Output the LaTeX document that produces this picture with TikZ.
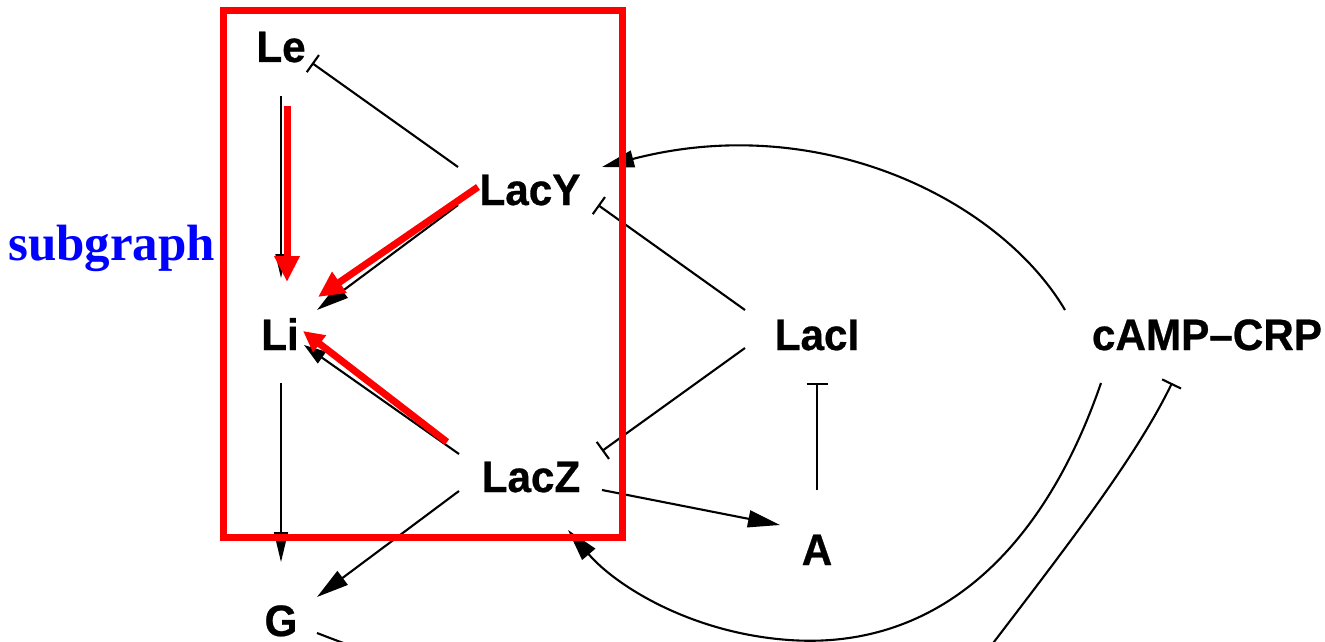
\documentclass[tikz,border=0pt]{standalone}
\usepackage{fontspec}
\setmainfont{Liberation Sans}
\newfontfamily\speciesfont[FakeStretch=0.96,FakeBold=0.6]{Liberation Sans}
\newfontfamily\tagfont{Liberation Serif}
\usetikzlibrary{arrows.meta,calc}

\begin{document}
\begin{tikzpicture}[x=1pt,y=-1pt,
  species/.style={font=\speciesfont\bfseries\fontsize{44}{44}\selectfont, anchor=base, inner sep=0pt},
  tag/.style={font=\tagfont\bfseries\fontsize{51}{51}\selectfont, text={rgb,255:red,0;green,0;blue,255}, anchor=base west, inner sep=0pt},
  link/.style={line width=2.1pt, black},
  thinlink/.style={line width=1.5pt, black},
  act/.style={-{Triangle[length=32pt,width=17pt]}},
  inh/.style={-{Bar[width=21pt]}},
  hl/.style={draw={rgb,255:red,255;green,0;blue,0}, line width=7pt, -{Triangle[length=26pt,width=24pt]}},
  hlsmall/.style={hl, -{Triangle[length=21pt,width=20pt]}}
]
\useasboundingbox (0,0) rectangle (1325,642);
\clip (0,0) rectangle (1325,642);

% species of the lac network
\node[species] (Le)   at (281,62)   {Le};
\node[species] (LacY) at (530,205)  {LacY};
\node[species] (Li)   at (280,350)  {Li};
\node[species] (LacI) at (817,350)  {LacI};
\node[species] (CRP)  at (1207,350) {cAMP–CRP};
\node[species] (LacZ) at (531,492)  {LacZ};
\node[species] (A)    at (817,565)  {A};
\node[species] (G)    at (281,636)  {G};

% activations and repressions
\draw[thinlink, -{Triangle[length=24pt,width=11pt]}] ($(Le.base)+(0,34)$) -- ($(Li.base)+(1,-72)$);
\draw[link, inh] ($(LacY.base)+(-72,-38)$) -- ($(Le.base)+(31,1)$);
\draw[link, act] ($(LacY.base)+(-72,0)$) -- ($(Li.base)+(37,-40)$);
\draw[link, -{Triangle[length=22pt,width=14pt]}] ($(LacZ.base)+(-72,-38)$) -- ($(Li.base)+(24,-5)$);
\draw[thinlink, -{Triangle[length=30pt,width=14pt]}] ($(Li.base)+(1,33)$) -- ($(G.base)+(0,-74)$);
\draw[link, act] ($(LacZ.base)+(-72,-1)$) -- ($(G.base)+(36,-39)$);
\draw[link, inh] ($(LacI.base)+(-72,-40)$) -- ($(LacY.base)+(68,0)$);
\draw[link, inh] ($(LacI.base)+(-72,-2)$) -- ($(LacZ.base)+(71,-41)$);
\draw[thinlink, inh] ($(A.base)+(0,-75)$) -- ($(LacI.base)+(0,33)$);
\draw[link, act] ($(LacZ.base)+(71,-2)$) -- ($(A.base)+(-37,-40)$);
\draw[link, act] ($(CRP.base)+(-142,-40)$)
  .. controls (1000,200) and (820,110) .. ($(LacY.base)+(72,-38)$);
\draw[link, act] ($(CRP.base)+(-106,33)$)
  .. controls (1040,560) and (930,650) .. (789,640)
  .. controls (690,633) and (615,585) .. ($(LacZ.base)+(37,38)$);
\draw[link, inh] ($(G.base)+(36,-3)$)
  .. controls (547,723) and (890,780) .. (950,700)
  .. controls (1040,580) and (1130,470) .. ($(CRP.base)+(-35,33)$);

% highlighted subgraph
\draw[hl] ($(Le.base)+(6,44)$) -- ($(Li.base)+(7,-68)$);
\draw[hl] ($(LacY.base)+(-52,-18)$) -- ($(Li.base)+(38,-53)$);
\draw[hlsmall] ($(LacZ.base)+(-84,-50)$) -- ($(Li.base)+(23,-19)$);
\node[draw={rgb,255:red,255;green,0;blue,0}, line width=7pt, minimum width=399pt, minimum height=526.5pt, inner sep=0pt] (box) at (422.5,273.75) {};
\node[tag] (sub) at (8,260) {subgraph};
\end{tikzpicture}
\end{document}
